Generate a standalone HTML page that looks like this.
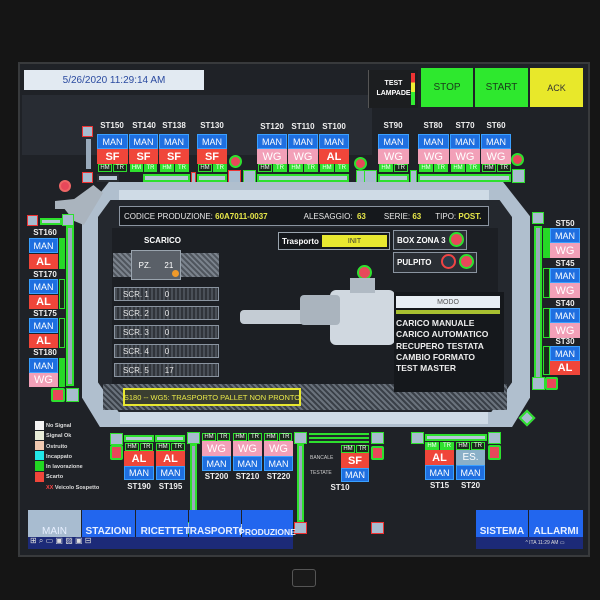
<!DOCTYPE html>
<html><head><meta charset="utf-8"><style>
body{margin:0;width:600px;height:600px;background:#151515;position:relative;overflow:hidden;font-family:"Liberation Sans",sans-serif}
div{position:absolute;box-sizing:border-box}
.t{display:flex;align-items:center;justify-content:center;color:#fff;font-size:9px;white-space:nowrap}
.man{background:#1f6fe0;border:1px solid #3aa0ff}
.red{background:#f0463a;font-weight:bold;font-size:11px}
.wg{background:#f2a0b8;font-size:11px}
.hm{background:#1a2a1a;border:1px solid #2ee02e;font-size:6px;height:8px}
.g{background:#26d826}
.lbl{color:#f0f0f0;font-size:8px;font-weight:bold}
.rail{background:#b8c8d8;border:2px solid #2ee02e}
.sq{background:#a8bccf;border:1px solid #2ee02e}
.rc{border-radius:50%;background:#e8485a;border:2px solid #2ee02e}
.scr{background:repeating-linear-gradient(90deg,#4a5058 0 2px,#30343a 2px 4px);border:1px solid #8a94a0;color:#e8e8e8;font-size:8px;justify-content:flex-start;padding-left:8px}
.nav{background:#2266ee;color:#e8f0ff;font-size:10px;align-items:flex-end;padding-bottom:0}
</style></head><body>
<div style="left:18px;top:62px;width:572px;height:495px;background:#1f2227;border:2px solid #383a3c"></div>
<div style="left:22px;top:95px;width:350px;height:60px;background:#2e343c;opacity:.6"></div>
<div class="t" style="left:24px;top:70px;width:180px;height:20px;background:#e2eaf2;color:#2a4aa0;font-size:10px">5/26/2020 11:29:14 AM</div>
<div class="t" style="left:368px;top:70px;width:50px;height:38px;background:#1c1e20;border-left:1px solid #555;font-size:7px;font-weight:bold;flex-direction:column;line-height:10px"><span>TEST</span><span>LAMPADE</span></div>
<div style="left:411px;top:73px;width:4px;height:32px;background:linear-gradient(#e33 0 30%,#ee3 30% 60%,#3e3 60%)"></div>
<div class="t" style="left:421px;top:68px;width:52px;height:39px;background:#2ee82e;color:#1a3a1a;font-size:10px">STOP</div>
<div class="t" style="left:475px;top:68px;width:53px;height:39px;background:#2ee82e;color:#1a3a1a;font-size:10px">START</div>
<div class="t" style="left:530px;top:68px;width:53px;height:39px;background:#e8e82a;color:#333;font-size:9px">ACK</div>

<div class="sq" style="left:82px;top:126px;width:11px;height:11px;border-color:#e33"></div>
<div class="g" style="left:86px;top:139px;width:5px;height:30px;background:#9ab"></div>
<div class="sq" style="left:82px;top:172px;width:11px;height:11px;border-color:#e33"></div>

<div class="t lbl" style="left:97px;top:121px;width:30px;height:9px">ST150</div>
<div class="t lbl" style="left:129px;top:121px;width:30px;height:9px">ST140</div>
<div class="t lbl" style="left:159px;top:121px;width:30px;height:9px">ST138</div>
<div class="t lbl" style="left:197px;top:121px;width:30px;height:9px">ST130</div>
<div class="t lbl" style="left:257px;top:122px;width:30px;height:9px">ST120</div>
<div class="t lbl" style="left:288px;top:122px;width:30px;height:9px">ST110</div>
<div class="t lbl" style="left:319px;top:122px;width:30px;height:9px">ST100</div>
<div class="t lbl" style="left:378px;top:121px;width:30px;height:9px">ST90</div>
<div class="t lbl" style="left:418px;top:121px;width:30px;height:9px">ST80</div>
<div class="t lbl" style="left:450px;top:121px;width:30px;height:9px">ST70</div>
<div class="t lbl" style="left:481px;top:121px;width:30px;height:9px">ST60</div>

<div class="t man" style="left:97px;top:134px;width:31px;height:15px">MAN</div>
<div class="t man" style="left:129px;top:134px;width:29px;height:15px">MAN</div>
<div class="t man" style="left:159px;top:134px;width:30px;height:15px">MAN</div>
<div class="t man" style="left:197px;top:134px;width:30px;height:15px">MAN</div>
<div class="t man" style="left:257px;top:134px;width:30px;height:15px">MAN</div>
<div class="t man" style="left:288px;top:134px;width:30px;height:15px">MAN</div>
<div class="t man" style="left:319px;top:134px;width:30px;height:15px">MAN</div>
<div class="t man" style="left:378px;top:134px;width:31px;height:15px">MAN</div>
<div class="t man" style="left:418px;top:134px;width:31px;height:15px">MAN</div>
<div class="t man" style="left:450px;top:134px;width:30px;height:15px">MAN</div>
<div class="t man" style="left:481px;top:134px;width:30px;height:15px">MAN</div>

<div class="t red" style="left:97px;top:149px;width:31px;height:15px">SF</div>
<div class="t red" style="left:129px;top:149px;width:29px;height:15px">SF</div>
<div class="t red" style="left:159px;top:149px;width:30px;height:15px">SF</div>
<div class="t red" style="left:197px;top:149px;width:30px;height:15px">SF</div>
<div class="t wg" style="left:257px;top:149px;width:30px;height:15px">WG</div>
<div class="t wg" style="left:288px;top:149px;width:30px;height:15px">WG</div>
<div class="t red" style="left:319px;top:149px;width:30px;height:15px">AL</div>
<div class="t wg" style="left:378px;top:149px;width:31px;height:15px">WG</div>
<div class="t wg" style="left:418px;top:149px;width:31px;height:15px">WG</div>
<div class="t wg" style="left:450px;top:149px;width:30px;height:15px">WG</div>
<div class="t wg" style="left:481px;top:149px;width:30px;height:15px">WG</div>

<div class="t hm" style="left:98px;top:164px;width:14px">HM</div><div class="t hm" style="left:113px;top:164px;width:14px">TR</div>
<div class="t hm" style="left:130px;top:164px;width:13px;background:#2ee02e">HM</div><div class="t hm" style="left:144px;top:164px;width:13px;background:#2ee02e">TR</div>
<div class="t hm" style="left:160px;top:164px;width:14px;background:#2ee02e">HM</div><div class="t hm" style="left:175px;top:164px;width:14px;background:#2ee02e">TR</div>
<div class="t hm" style="left:198px;top:164px;width:14px">HM</div><div class="t hm" style="left:213px;top:164px;width:14px;background:#2ee02e">TR</div>
<div class="t hm" style="left:258px;top:164px;width:14px">HM</div><div class="t hm" style="left:273px;top:164px;width:14px;background:#2ee02e">TR</div>
<div class="t hm" style="left:289px;top:164px;width:14px;background:#2ee02e">HM</div><div class="t hm" style="left:304px;top:164px;width:14px;background:#2ee02e">TR</div>
<div class="t hm" style="left:320px;top:164px;width:14px;background:#2ee02e">HM</div><div class="t hm" style="left:335px;top:164px;width:14px;background:#2ee02e">TR</div>
<div class="t hm" style="left:379px;top:164px;width:14px;background:#2ee02e">HM</div><div class="t hm" style="left:394px;top:164px;width:14px">TR</div>
<div class="t hm" style="left:419px;top:164px;width:14px;background:#2ee02e">HM</div><div class="t hm" style="left:434px;top:164px;width:14px;background:#2ee02e">TR</div>
<div class="t hm" style="left:451px;top:164px;width:14px;background:#2ee02e">HM</div><div class="t hm" style="left:466px;top:164px;width:14px;background:#2ee02e">TR</div>
<div class="t hm" style="left:482px;top:164px;width:14px">HM</div><div class="t hm" style="left:497px;top:164px;width:14px">TR</div>

<div class="rc" style="left:229px;top:155px;width:13px;height:13px"></div>
<div class="rc" style="left:354px;top:157px;width:13px;height:13px"></div>
<div class="rc" style="left:511px;top:153px;width:13px;height:13px"></div>

<div class="rail" style="left:97px;top:174px;width:22px;height:8px;border-color:#2a2e33"></div>
<div class="rail" style="left:143px;top:174px;width:47px;height:8px"></div>
<div class="sq" style="left:191px;top:172px;width:5px;height:12px;border-color:#e33"></div>
<div class="rail" style="left:197px;top:174px;width:30px;height:8px"></div>
<div class="sq" style="left:228px;top:170px;width:13px;height:13px;border-color:#e33"></div>
<div class="sq" style="left:243px;top:170px;width:13px;height:13px"></div>
<div class="rail" style="left:257px;top:174px;width:92px;height:8px"></div>
<div class="sq" style="left:356px;top:170px;width:13px;height:13px"></div>
<div class="sq" style="left:364px;top:170px;width:13px;height:13px"></div>
<div class="rail" style="left:378px;top:174px;width:31px;height:8px"></div>
<div class="sq" style="left:410px;top:170px;width:7px;height:13px"></div>
<div class="rail" style="left:418px;top:174px;width:93px;height:8px"></div>
<div class="sq" style="left:512px;top:169px;width:13px;height:14px"></div>

<div style="left:82px;top:182px;width:448px;height:245px;background:#b0bfce;clip-path:polygon(6% 0,94% 0,100% 14%,100% 88%,96% 100%,4% 100%,0 88%,0 14%)"></div>
<div style="left:119px;top:190px;width:370px;height:12px;background:#cfdbe6"></div>
<div style="left:98px;top:200px;width:414px;height:212px;background:#24282e;clip-path:polygon(3% 0,97% 0,100% 8%,100% 86%,95% 100%,5% 100%,0 86%,0 8%)"></div>
<div style="left:103px;top:384px;width:404px;height:26px;background:repeating-linear-gradient(45deg,#6a727c 0 2px,#3a4048 2px 4px)"></div>
<div style="left:120px;top:412px;width:368px;height:12px;background:#cfdbe6"></div>
<div style="left:112px;top:228px;width:386px;height:156px;background:#1c1f24"></div>
<div style="left:55px;top:185px;width:48px;height:40px;background:#aab4be;clip-path:polygon(0 40%,40% 35%,80% 0,100% 20%,60% 100%,40% 90%,20% 60%,0 60%)"></div>
<div class="rc" style="left:59px;top:180px;width:12px;height:12px;border-color:#e66"></div>

<div class="t" style="left:119px;top:206px;width:370px;height:20px;background:#15181c;border:1px solid #8a94a0;justify-content:flex-start;padding-left:4px;font-size:8px;color:#e8e8e8">CODICE PRODUZIONE:&nbsp;<b style="color:#e8e84a">60A7011-0037</b><span style="margin-left:36px">ALESAGGIO:&nbsp;&nbsp;<b style="color:#e8e84a">63</b></span><span style="margin-left:18px">SERIE:&nbsp;<b style="color:#e8e84a">63</b></span><span style="margin-left:14px">TIPO:&nbsp;<b style="color:#e8e84a">POST.</b></span></div>

<div class="t" style="left:140px;top:235px;width:45px;height:10px;font-size:8px;font-weight:bold">SCARICO</div>
<div style="left:113px;top:253px;width:106px;height:24px;background:repeating-linear-gradient(45deg,#7a828c 0 2px,#50565e 2px 4px)"></div>
<div class="t" style="left:131px;top:250px;width:50px;height:30px;background:#5a6068;border:1px solid #9aa4ae;font-size:8px;justify-content:space-around">PZ.<span>21</span></div>
<div style="left:172px;top:270px;width:7px;height:7px;border-radius:50%;background:#f09a2a"></div>
<div class="t scr" style="left:114px;top:287px;width:105px;height:14px">SCR. 1<span style="margin-left:16px">0</span></div>
<div class="t scr" style="left:114px;top:306px;width:105px;height:14px">SCR. 2<span style="margin-left:16px">0</span></div>
<div class="t scr" style="left:114px;top:325px;width:105px;height:14px">SCR. 3<span style="margin-left:16px">0</span></div>
<div class="t scr" style="left:114px;top:344px;width:105px;height:14px">SCR. 4<span style="margin-left:16px">0</span></div>
<div class="t scr" style="left:114px;top:363px;width:105px;height:14px">SCR. 5<span style="margin-left:16px">17</span></div>

<div class="t" style="left:278px;top:232px;width:112px;height:18px;background:#15181c;border:1px solid #9aa4ae;justify-content:flex-start;padding-left:3px;font-size:8px;font-weight:bold">Trasporto</div>
<div class="t" style="left:322px;top:235px;width:65px;height:12px;background:#e8e830;color:#333;font-size:7px">INIT</div>
<div class="t" style="left:393px;top:230px;width:74px;height:20px;background:#2a2e34;border:1px solid #8a94a0;justify-content:flex-start;padding-left:3px;font-size:8px;font-weight:bold">BOX ZONA 3</div>
<div class="rc" style="left:449px;top:232px;width:15px;height:15px"></div>
<div class="t" style="left:393px;top:252px;width:84px;height:21px;background:#2a2e34;border:1px solid #8a94a0;justify-content:flex-start;padding-left:3px;font-size:8px;font-weight:bold">PULPITO</div>
<div style="left:441px;top:254px;width:15px;height:15px;border-radius:50%;background:#2a3a4a;border:2px solid #e44"></div>
<div class="rc" style="left:459px;top:254px;width:15px;height:15px"></div>
<div class="rc" style="left:357px;top:265px;width:15px;height:15px"></div>

<div style="left:330px;top:290px;width:65px;height:55px;background:#d0d8e0;border-radius:6px"></div>
<div style="left:240px;top:310px;width:100px;height:14px;background:#c4ccd4;border-radius:4px"></div>
<div style="left:300px;top:295px;width:40px;height:30px;background:#aab4be;border-radius:4px"></div>
<div style="left:350px;top:278px;width:25px;height:15px;background:#b0bac4"></div>

<div style="left:394px;top:292px;width:110px;height:100px;background:#15181c"></div>
<div class="t" style="left:396px;top:296px;width:104px;height:12px;background:#e8eef4;color:#555;font-size:7px">MODO</div>
<div style="left:396px;top:310px;width:104px;height:4px;background:#a8c030"></div>
<div style="left:396px;top:318px;color:#eee;font-size:8.5px;font-weight:bold;line-height:11.3px">CARICO MANUALE<br>CARICO AUTOMATICO<br>RECUPERO TESTATA<br>CAMBIO FORMATO<br>TEST MASTER</div>

<div class="t" style="left:123px;top:388px;width:178px;height:18px;background:#3a3e30;border:2px solid #e8e830;color:#e8e84a;font-size:7.5px">S180 -- WG5: TRASPORTO PALLET NON PRONTO</div>

<div class="sq" style="left:27px;top:215px;width:11px;height:11px;border-color:#e33"></div>
<div class="rail" style="left:40px;top:218px;width:22px;height:7px"></div>
<div class="sq" style="left:62px;top:214px;width:12px;height:12px"></div>
<div class="g" style="left:66px;top:226px;width:8px;height:160px;background:#9ab;border:2px solid #2ee02e"></div>
<div class="t lbl" style="left:30px;top:228px;width:30px;height:9px">ST160</div>
<div class="t man" style="left:29px;top:238px;width:29px;height:15px">MAN</div>
<div class="t red" style="left:29px;top:254px;width:29px;height:15px">AL</div>
<div class="g" style="left:59px;top:238px;width:6px;height:31px"></div>
<div class="t lbl" style="left:30px;top:270px;width:30px;height:9px">ST170</div>
<div class="t man" style="left:29px;top:279px;width:29px;height:15px">MAN</div>
<div class="t red" style="left:29px;top:295px;width:29px;height:14px">AL</div>
<div class="hm" style="left:59px;top:279px;width:6px;height:30px"></div>
<div class="t lbl" style="left:30px;top:309px;width:30px;height:9px">ST175</div>
<div class="t man" style="left:29px;top:318px;width:29px;height:15px">MAN</div>
<div class="t red" style="left:29px;top:334px;width:29px;height:14px">AL</div>
<div class="hm" style="left:59px;top:318px;width:6px;height:30px"></div>
<div class="t lbl" style="left:30px;top:348px;width:30px;height:9px">ST180</div>
<div class="t man" style="left:29px;top:358px;width:29px;height:15px">MAN</div>
<div class="t wg" style="left:29px;top:373px;width:29px;height:14px">WG</div>
<div class="g" style="left:59px;top:358px;width:6px;height:29px"></div>
<div class="rc" style="left:51px;top:388px;width:14px;height:14px;border-radius:2px"></div>
<div class="sq" style="left:66px;top:388px;width:13px;height:14px"></div>

<div class="sq" style="left:532px;top:212px;width:12px;height:12px"></div>
<div class="g" style="left:534px;top:226px;width:8px;height:155px;background:#9ab;border:2px solid #2ee02e"></div>
<div class="t lbl" style="left:550px;top:219px;width:30px;height:9px">ST50</div>
<div class="t man" style="left:550px;top:228px;width:30px;height:15px">MAN</div>
<div class="t wg" style="left:550px;top:243px;width:30px;height:15px">WG</div>
<div class="g" style="left:543px;top:228px;width:7px;height:30px"></div>
<div class="t lbl" style="left:550px;top:259px;width:30px;height:9px">ST45</div>
<div class="t man" style="left:550px;top:268px;width:30px;height:15px">MAN</div>
<div class="t wg" style="left:550px;top:283px;width:30px;height:15px">WG</div>
<div class="hm" style="left:543px;top:268px;width:7px;height:30px"></div>
<div class="t lbl" style="left:550px;top:299px;width:30px;height:9px">ST40</div>
<div class="t man" style="left:550px;top:308px;width:30px;height:15px">MAN</div>
<div class="t wg" style="left:550px;top:323px;width:30px;height:15px">WG</div>
<div class="hm" style="left:543px;top:308px;width:7px;height:30px"></div>
<div class="t lbl" style="left:550px;top:337px;width:30px;height:9px">ST30</div>
<div class="t man" style="left:550px;top:346px;width:30px;height:15px">MAN</div>
<div class="t red" style="left:550px;top:361px;width:30px;height:14px">AL</div>
<div class="hm" style="left:543px;top:346px;width:7px;height:29px"></div>
<div class="sq" style="left:532px;top:377px;width:13px;height:13px"></div>
<div class="rc" style="left:545px;top:377px;width:13px;height:13px;border-radius:2px"></div>
<div style="left:521px;top:412px;width:12px;height:12px;background:#a8bccf;border:2px solid #2ee02e;transform:rotate(45deg)"></div>

<div style="left:35px;top:421px;width:9px;height:9px;background:#f4f4f4"></div>
<div style="left:35px;top:431px;width:9px;height:9px;background:#e8ecd8"></div>
<div style="left:35px;top:441px;width:9px;height:9px;background:#f0c8b0"></div>
<div style="left:35px;top:451px;width:9px;height:9px;background:#22e8e8"></div>
<div style="left:35px;top:461px;width:9px;height:10px;background:#22d822"></div>
<div style="left:35px;top:472px;width:9px;height:10px;background:#f0463a"></div>
<div style="left:46px;top:421px;color:#ddd;font-size:5.5px;line-height:10.3px;font-weight:bold">No Signal<br>Signal Ok<br>Ostruito<br>Incappato<br>In lavorazione<br>Scarto<br><span style="color:#f44">XX</span> Veicolo Sospetto</div>

<div class="sq" style="left:110px;top:433px;width:13px;height:12px"></div>
<div class="rc" style="left:110px;top:445px;width:13px;height:15px;border-radius:2px"></div>
<div class="rail" style="left:124px;top:435px;width:30px;height:7px"></div>
<div class="rail" style="left:155px;top:435px;width:30px;height:7px"></div>
<div class="t hm" style="left:125px;top:443px;width:14px">HM</div><div class="t hm" style="left:140px;top:443px;width:13px">TR</div>
<div class="t hm" style="left:156px;top:443px;width:14px">HM</div><div class="t hm" style="left:171px;top:443px;width:14px">TR</div>
<div class="t red" style="left:124px;top:451px;width:30px;height:15px">AL</div>
<div class="t red" style="left:156px;top:451px;width:29px;height:15px">AL</div>
<div class="t man" style="left:124px;top:466px;width:30px;height:14px">MAN</div>
<div class="t man" style="left:156px;top:466px;width:29px;height:14px">MAN</div>
<div class="t lbl" style="left:124px;top:482px;width:30px;height:9px">ST190</div>
<div class="t lbl" style="left:156px;top:482px;width:29px;height:9px">ST195</div>

<div class="sq" style="left:187px;top:432px;width:13px;height:12px"></div>
<div class="g" style="left:190px;top:444px;width:7px;height:80px;background:#9ab;border:2px solid #2ee02e"></div>
<div class="sq" style="left:187px;top:522px;width:13px;height:12px"></div>
<div class="rail" style="left:201px;top:524px;width:92px;height:8px;border:0"></div>
<div class="sq" style="left:294px;top:522px;width:13px;height:12px;border-color:#e33"></div>
<div class="sq" style="left:294px;top:432px;width:13px;height:12px"></div>
<div class="g" style="left:297px;top:444px;width:7px;height:78px;background:#9ab;border:2px solid #2ee02e"></div>
<div class="t hm" style="left:202px;top:433px;width:14px">HM</div><div class="t hm" style="left:217px;top:433px;width:13px">TR</div>
<div class="t hm" style="left:233px;top:433px;width:14px">HM</div><div class="t hm" style="left:248px;top:433px;width:14px">TR</div>
<div class="t hm" style="left:264px;top:433px;width:14px">HM</div><div class="t hm" style="left:279px;top:433px;width:13px">TR</div>
<div class="t wg" style="left:202px;top:441px;width:29px;height:15px">WG</div>
<div class="t wg" style="left:233px;top:441px;width:29px;height:15px">WG</div>
<div class="t wg" style="left:264px;top:441px;width:29px;height:15px">WG</div>
<div class="t man" style="left:202px;top:456px;width:29px;height:15px">MAN</div>
<div class="t man" style="left:233px;top:456px;width:29px;height:15px">MAN</div>
<div class="t man" style="left:264px;top:456px;width:29px;height:15px">MAN</div>
<div class="t lbl" style="left:202px;top:472px;width:29px;height:9px">ST200</div>
<div class="t lbl" style="left:233px;top:472px;width:29px;height:9px">ST210</div>
<div class="t lbl" style="left:264px;top:472px;width:29px;height:9px">ST220</div>

<div style="left:309px;top:433px;width:60px;height:10px;background:repeating-linear-gradient(#2ee02e 0 2px,#22262c 2px 4px)"></div>
<div class="sq" style="left:371px;top:432px;width:13px;height:12px"></div>
<div class="rc" style="left:371px;top:446px;width:13px;height:14px;border-radius:2px"></div>
<div style="left:310px;top:451px;color:#ccc;font-size:5px;line-height:15px">BANCALE<br>TESTATE</div>
<div class="t hm" style="left:341px;top:445px;width:14px">HM</div><div class="t hm" style="left:356px;top:445px;width:13px">TR</div>
<div class="t red" style="left:341px;top:453px;width:28px;height:15px">SF</div>
<div class="t man" style="left:341px;top:468px;width:28px;height:14px">MAN</div>
<div class="t lbl" style="left:325px;top:483px;width:30px;height:9px">ST10</div>
<div class="sq" style="left:371px;top:522px;width:13px;height:12px;border-color:#e33"></div>

<div class="sq" style="left:411px;top:432px;width:13px;height:12px"></div>
<div class="rail" style="left:425px;top:434px;width:62px;height:7px"></div>
<div class="sq" style="left:488px;top:432px;width:13px;height:12px"></div>
<div class="rc" style="left:488px;top:445px;width:13px;height:15px;border-radius:2px"></div>
<div class="t hm" style="left:425px;top:442px;width:14px;background:#2ee02e">HM</div><div class="t hm" style="left:440px;top:442px;width:14px;background:#2ee02e">TR</div>
<div class="t hm" style="left:456px;top:442px;width:14px">HM</div><div class="t hm" style="left:471px;top:442px;width:14px">TR</div>
<div class="t red" style="left:425px;top:450px;width:29px;height:15px">AL</div>
<div class="t" style="left:456px;top:450px;width:29px;height:15px;background:#8ab0c8;font-size:10px">ES.</div>
<div class="t man" style="left:425px;top:465px;width:29px;height:15px">MAN</div>
<div class="t man" style="left:456px;top:465px;width:29px;height:15px">MAN</div>
<div class="t lbl" style="left:425px;top:481px;width:29px;height:9px">ST15</div>
<div class="t lbl" style="left:456px;top:481px;width:29px;height:9px">ST20</div>

<div class="t nav" style="left:28px;top:510px;width:53px;height:27px;background:#a8bcd0">MAIN</div>
<div class="t nav" style="left:82px;top:510px;width:53px;height:27px;font-weight:bold">STAZIONI</div>
<div class="t nav" style="left:136px;top:510px;width:52px;height:27px;font-weight:bold">RICETTE</div>
<div class="t nav" style="left:189px;top:510px;width:52px;height:27px;font-weight:bold">TRASPORTO</div>
<div class="t nav" style="left:242px;top:510px;width:51px;height:27px;font-size:8.5px;font-weight:bold">PRODUZIONE</div>
<div class="t nav" style="left:476px;top:510px;width:52px;height:27px;font-weight:bold">SISTEMA</div>
<div class="t nav" style="left:529px;top:510px;width:54px;height:27px;font-weight:bold">ALLARMI</div>
<div style="left:28px;top:537px;width:265px;height:12px;background:#1c2a78"></div>
<div style="left:476px;top:537px;width:107px;height:12px;background:#1c2a78"></div>
<div style="left:30px;top:536px;width:110px;height:13px;color:#ddd;font-size:8px">⊞ ⌕ ▭ ▣ ▨ ▣ ⊟</div>
<div class="t" style="left:510px;top:537px;width:70px;height:12px;font-size:5px;color:#ddd">^ ITA 11:29 AM ▭</div>
<div style="left:292px;top:569px;width:24px;height:18px;border:1px solid #555;border-radius:3px;background:#1a1a1a"></div>
</body></html>
